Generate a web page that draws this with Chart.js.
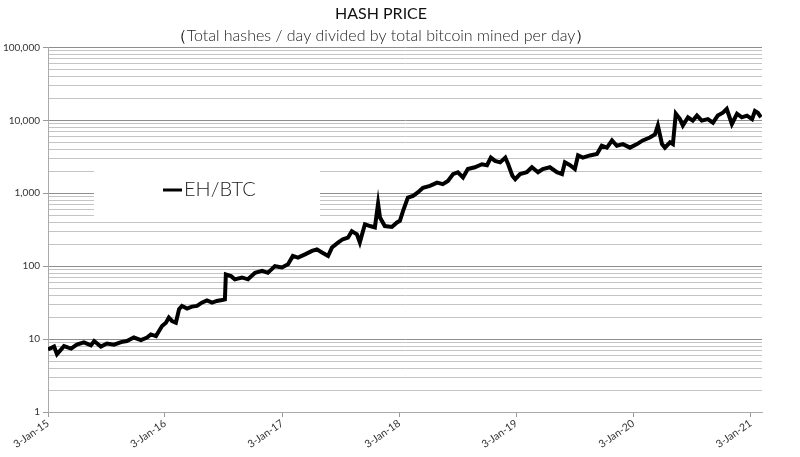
<!DOCTYPE html>
<html>
<head>
<meta charset="utf-8">
<script src="https://cdn.jsdelivr.net/npm/chart.js@4.4.1/dist/chart.umd.min.js"></script>
<style>
html, body { margin: 0; padding: 0; background: #fff; }
#wrap { width: 800px; height: 457px; }
</style>
</head>
<body>
<div id="wrap"><canvas id="hashPriceChart"></canvas></div>
<script>
// Hash price (EH/BTC)
const dates = [
    '2015-01-03', '2015-01-22', '2015-01-31', '2015-02-22', '2015-03-16', '2015-04-03', '2015-04-25', '2015-05-17',
    '2015-05-27', '2015-06-17', '2015-07-06', '2015-07-28', '2015-08-19', '2015-09-06', '2015-09-28', '2015-10-20',
    '2015-11-08', '2015-11-20', '2015-12-06', '2015-12-15', '2015-12-25', '2016-01-06', '2016-01-15', '2016-01-25',
    '2016-02-06', '2016-02-16', '2016-02-25', '2016-03-12', '2016-03-27', '2016-04-12', '2016-04-27', '2016-05-13',
    '2016-05-29', '2016-06-13', '2016-06-29', '2016-07-08', '2016-07-11', '2016-07-27', '2016-08-08', '2016-08-30',
    '2016-09-18', '2016-10-10', '2016-11-01', '2016-11-19', '2016-12-11', '2017-01-02', '2017-01-21', '2017-02-05',
    '2017-02-21', '2017-03-15', '2017-04-06', '2017-04-21', '2017-05-07', '2017-05-26', '2017-06-07', '2017-06-26',
    '2017-07-11', '2017-07-27', '2017-08-08', '2017-08-24', '2017-09-02', '2017-09-18', '2017-10-04', '2017-10-19',
    '2017-10-29', '2017-11-04', '2017-11-19', '2017-12-11', '2017-12-27', '2018-01-05', '2018-01-15', '2018-01-30',
    '2018-02-15', '2018-03-02', '2018-03-18', '2018-04-09', '2018-05-01', '2018-05-19', '2018-06-04', '2018-06-20',
    '2018-07-05', '2018-07-21', '2018-08-05', '2018-08-27', '2018-09-18', '2018-10-04', '2018-10-16', '2018-10-29',
    '2018-11-14', '2018-11-30', '2018-12-09', '2018-12-22', '2018-12-31', '2019-01-15', '2019-02-05', '2019-02-21',
    '2019-03-12', '2019-03-27', '2019-04-18', '2019-05-10', '2019-05-26', '2019-06-04', '2019-06-20', '2019-07-05',
    '2019-07-15', '2019-07-30', '2019-08-21', '2019-09-12', '2019-09-27', '2019-10-13', '2019-10-29', '2019-11-13',
    '2019-12-02', '2019-12-24', '2020-01-15', '2020-02-02', '2020-02-24', '2020-03-11', '2020-03-20', '2020-04-02',
    '2020-04-11', '2020-04-27', '2020-05-06', '2020-05-15', '2020-05-28', '2020-06-06', '2020-06-22', '2020-07-07',
    '2020-07-20', '2020-08-04', '2020-08-23', '2020-09-08', '2020-09-23', '2020-10-09', '2020-10-21', '2020-11-06',
    '2020-11-22', '2020-12-07', '2020-12-23', '2021-01-08', '2021-01-17', '2021-01-26', '2021-02-05'
];
const ehPerBtc = [
    7.2, 7.9, 6.2, 8.0, 7.4, 8.4, 9.0, 8.2,
    9.4, 7.9, 8.7, 8.4, 9.1, 9.4, 10.5, 9.7,
    10.5, 11.6, 11.0, 12.8, 15.1, 16.8, 19.7, 17.7,
    16.8, 25.7, 28.5, 26.2, 27.9, 28.5, 31.6, 33.9,
    31.6, 33.3, 34.3, 35, 77, 73, 66, 70,
    66, 81, 86, 81, 100, 96, 106, 138,
    131, 145, 162, 170, 154, 138, 180, 210,
    234, 246, 302, 273, 212, 375, 355, 340,
    720, 464, 355, 345, 398, 418, 572, 870,
    920, 1025, 1190, 1260, 1400, 1330, 1470, 1830,
    1940, 1650, 2150, 2270, 2500, 2420, 3080, 2780,
    2650, 3080, 2500, 1740, 1560, 1830, 1940, 2270,
    1940, 2150, 2270, 1940, 1830, 2650, 2420, 2150,
    3300, 3080, 3300, 3450, 4480, 4220, 5300, 4480,
    4720, 4220, 4720, 5300, 5800, 6400, 8470, 4720,
    4220, 5000, 4720, 12300, 10400, 8470, 11000, 9900,
    11600, 9900, 10400, 9300, 11600, 12700, 14300, 8900,
    12300, 11000, 11600, 10400, 13400, 12700, 11000
];
const xTickDates = ['2015-01-03', '2016-01-03', '2017-01-03', '2018-01-03', '2019-01-03', '2020-01-03', '2021-01-03'];
const xTickLabels = ['3-Jan-15', '3-Jan-16', '3-Jan-17', '3-Jan-18', '3-Jan-19', '3-Jan-20', '3-Jan-21'];
const yDecades = [1, 10, 100, 1000, 10000, 100000];

const day0 = Date.UTC(2015, 0, 3);
function toDay(s) {
    const p = s.split('-').map(Number);
    return (Date.UTC(p[0], p[1] - 1, p[2]) - day0) / 86400000;
}

// caixa da legenda dentro da área do gráfico
const legendBox = {
    id: 'legendBox',
    beforeDatasetsDraw(chart) {
        const ctx = chart.ctx;
        ctx.save();
        ctx.fillStyle = '#fff';
        ctx.fillRect(94, 166, 226, 53);
        ctx.strokeStyle = '#000';
        ctx.lineWidth = 3;
        ctx.beginPath();
        ctx.moveTo(163, 190);
        ctx.lineTo(182, 190);
        ctx.stroke();
        ctx.fillStyle = '#222';
        ctx.font = '300 20px Lato';
        ctx.textBaseline = 'middle';
        ctx.fillText(chart.data.datasets[0].label, 184, 190);
        ctx.restore();
    }
};

const ctxHash = document.getElementById('hashPriceChart').getContext('2d');
const hashPriceChart = new Chart(ctxHash, {
    type: 'line',
    data: {
        datasets: [{
            label: 'EH/BTC',
            data: dates.map((d, i) => ({ x: toDay(d), y: ehPerBtc[i] })),
            borderColor: '#000',
            borderWidth: 4,
            pointRadius: 0,
            tension: 0,
            fill: false
        }]
    },
    options: {
        responsive: true,
        maintainAspectRatio: false,
        animation: false,
        layout: { padding: { left: 0, right: 38, top: 0, bottom: 0 } },
        scales: {
            x: {
                type: 'linear',
                min: 0,
                max: 2228,
                afterBuildTicks: function(scale) {
                    scale.ticks = xTickDates.map(d => ({ value: toDay(d) }));
                },
                afterFit: function(scale) { scale.height = 45; },
                grid: { drawOnChartArea: false, tickLength: 5, color: '#999' },
                border: { color: '#aaa' },
                ticks: {
                    autoSkip: false,
                    minRotation: 35,
                    maxRotation: 35,
                    padding: 0,
                    color: '#333',
                    font: { family: 'Lato', size: 10.5 },
                    callback: function(value, index) { return xTickLabels[index]; }
                }
            },
            y: {
                type: 'logarithmic',
                min: 1,
                max: 100000,
                afterBuildTicks: function(scale) {
                    const ticks = [];
                    yDecades.forEach(function(dec) {
                        for (let s = 1; s <= 9; s++) {
                            if (dec === 100000 && s > 1) break;
                            ticks.push({ value: dec * s, major: s === 1 });
                        }
                    });
                    scale.ticks = ticks;
                },
                afterFit: function(scale) { scale.width = 48; },
                grid: {
                    tickLength: 5,
                    color: function(c) { return c.tick && c.tick.major ? '#8e8e8e' : '#c4c4c4'; },
                    tickColor: function(c) { return c.tick && c.tick.major ? '#999' : 'rgba(0,0,0,0)'; }
                },
                border: { color: '#aaa' },
                ticks: {
                    autoSkip: false,
                    padding: 3,
                    color: '#333',
                    font: { family: 'Lato', size: 10 },
                    callback: function(value) {
                        return yDecades.includes(value) ? value.toLocaleString('en-US') : '';
                    }
                }
            }
        },
        plugins: {
            legend: { display: false },
            tooltip: { enabled: false },
            title: {
                display: true,
                text: 'HASH PRICE',
                color: '#111',
                font: { family: 'Lato', size: 16, weight: 'normal' },
                padding: { top: 4, bottom: 0 }
            },
            subtitle: {
                display: true,
                text: '（Total hashes / day divided by total bitcoin mined per day）',
                color: '#222',
                font: { family: 'Lato', size: 16, weight: '300' },
                padding: { top: 3, bottom: 2 }
            }
        }
    },
    plugins: [legendBox]
});
</script>
</body>
</html>
